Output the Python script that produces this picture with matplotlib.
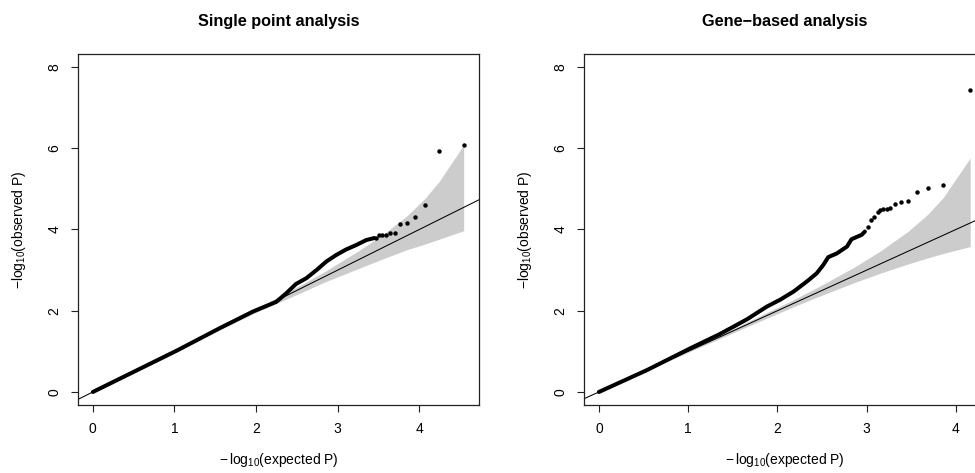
import matplotlib
matplotlib.use("Agg")
import matplotlib.pyplot as plt

plt.rcParams["font.family"] = ["Liberation Sans", "DejaVu Sans"]
plt.rcParams["mathtext.fontset"] = "custom"
plt.rcParams["mathtext.rm"] = "Liberation Sans"
plt.rcParams["mathtext.it"] = "Liberation Sans:italic"
plt.rcParams["mathtext.bf"] = "Liberation Sans:bold"

# ---- single point analysis ----
sp_band_x = [0, 1.0, 1.544, 2.0, 2.544, 2.845, 3.243, 3.544, 3.845, 4.067, 4.243, 4.544]
sp_band_up = [0, 1.01, 1.57, 2.05, 2.63, 2.97, 3.46, 3.86, 4.33, 4.76, 5.18, 6.08]
sp_band_lo = [0, 0.99, 1.52, 1.96, 2.44, 2.71, 3.03, 3.27, 3.50, 3.64, 3.76, 3.97]

# dense part of the observed points (looks like one thick line)
sp_dense_x = [0, 1.04, 1.554, 1.962, 2.248, 2.37, 2.49, 2.615, 2.74, 2.86, 2.98,
              3.105, 3.23, 3.35, 3.45]
sp_dense_y = [0, 1.03, 1.57, 1.98, 2.22, 2.43, 2.66, 2.80, 3.00, 3.21, 3.37,
              3.51, 3.62, 3.74, 3.79]

# sparse tail points
sp_tail_x = [3.465, 3.503, 3.544, 3.590, 3.641, 3.699, 3.766, 3.845, 3.942, 4.067, 4.243, 4.544]
sp_tail_y = [3.80, 3.87, 3.87, 3.87, 3.92, 3.92, 4.14, 4.16, 4.30, 4.60, 5.94, 6.08]

# ---- gene-based analysis ----
gb_band_x = [0, 1.16, 2.16, 2.461, 2.859, 3.16, 3.461, 3.683, 3.859, 4.16]
gb_band_up = [0, 1.19, 2.25, 2.59, 3.07, 3.48, 3.95, 4.37, 4.79, 5.76]
gb_band_lo = [0, 1.13, 2.08, 2.35, 2.69, 2.93, 3.15, 3.30, 3.41, 3.58]

gb_dense_x = [0, 0.54, 1.02, 1.35, 1.51, 1.66, 1.88, 2.03, 2.18, 2.33, 2.44,
              2.515, 2.57, 2.665, 2.78, 2.83, 2.945, 2.98]
gb_dense_y = [0, 0.54, 1.07, 1.42, 1.61, 1.79, 2.10, 2.27, 2.47, 2.72, 2.92,
              3.13, 3.32, 3.41, 3.58, 3.76, 3.87, 3.95]

gb_tail_x = [3.012, 3.05, 3.086, 3.124, 3.15, 3.187, 3.225, 3.262, 3.318, 3.385,
             3.459, 3.56, 3.684, 3.859, 4.161]
gb_tail_y = [4.07, 4.24, 4.32, 4.42, 4.48, 4.50, 4.51, 4.53, 4.63, 4.68,
             4.70, 4.93, 5.03, 5.09, 7.44]

y_ticks = [0, 2, 4, 6, 8]
x_ticks = [0, 1, 2, 3, 4]


def qq_panel(ax, title, band_x, band_up, band_lo, dense_x, dense_y, tail_x, tail_y, xmax):
    ax.fill_between(band_x, band_lo, band_up, color="#cccccc", lw=0, zorder=1)
    ax.axline((0, 0), slope=1, color="black", lw=0.75, zorder=2)
    ax.plot(dense_x, dense_y, color="black", lw=2.9, solid_capstyle="round",
            solid_joinstyle="round", zorder=3)
    ax.plot(tail_x, tail_y, "o", color="black", ms=3.2, mew=0, zorder=3)

    # R style 4% padding
    ax.set_xlim(-0.04 * xmax, 1.04 * xmax)
    ax.set_ylim(-0.32, 8.32)
    ax.set_xticks(x_ticks)
    ax.set_yticks(y_ticks)
    ax.tick_params(direction="out", length=5, width=0.8, labelsize=10, pad=7,
                   color="#222222")
    for lab in ax.get_yticklabels():
        lab.set_rotation(90)
        lab.set_va("center")
    for s in ax.spines.values():
        s.set_linewidth(0.9)
        s.set_color("#222222")

    ax.set_title(title, fontsize=11.7, fontweight="bold", pad=20)
    ax.text(0.5, -0.157, r"$-\,\mathrm{log}_{10}$(expected P)", transform=ax.transAxes,
            ha="center", va="center", fontsize=10)
    ax.text(-0.147, 0.5, r"$-\mathrm{log}_{10}$(observed P)", transform=ax.transAxes,
            ha="center", va="center", rotation=90, fontsize=10)


fig = plt.figure(figsize=(9.75, 4.73), dpi=100)
ax1 = fig.add_axes([0.08, 0.1438, 0.4113, 0.742])
ax2 = fig.add_axes([0.599, 0.1438, 0.4113, 0.742])  # runs a bit past the right edge, like the source

qq_panel(ax1, "Single point analysis", sp_band_x, sp_band_up, sp_band_lo,
         sp_dense_x, sp_dense_y, sp_tail_x, sp_tail_y, 4.55)
qq_panel(ax2, "Gene\u2212based analysis", gb_band_x, gb_band_up, gb_band_lo,
         gb_dense_x, gb_dense_y, gb_tail_x, gb_tail_y, 4.16)

fig.savefig("out.png", dpi=100)
